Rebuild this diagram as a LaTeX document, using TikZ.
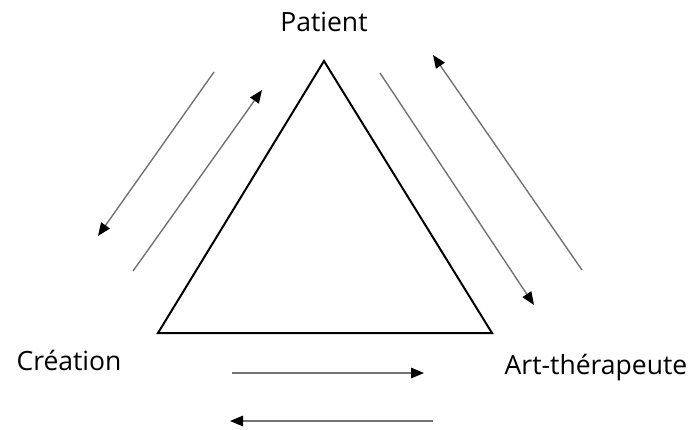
\documentclass[tikz,border=0pt]{standalone}
\usepackage{fontspec}
\setmainfont{Open Sans}
\usetikzlibrary{arrows.meta}
\tikzset{
  flow/.style={draw=black!55, line width=1.4pt, -{Triangle[length=13pt,width=10.5pt,color=black,fill=black]}},
  lbl/.style={font=\fontsize{26.5}{31}\selectfont, inner sep=0pt},
}
\begin{document}
\begin{tikzpicture}[x=1pt,y=1pt]
\useasboundingbox (0,0) rectangle (695,429);
% triangle
\coordinate (A) at (324,368);
\coordinate (B) at (158,96);
\coordinate (C) at (492,96);
\draw[line width=2pt, line join=miter] (A) -- (B) -- (C) -- cycle;
% labels
\node[lbl] (pat) at (324,407) {Patient};
\node[lbl] (cre) at (69,69) {Création};
\node[lbl] (art) at (596,61) {Art-thérapeute};
% left arrows
\coordinate (l1s) at (214,357);
\coordinate (l1e) at (98,193);
\coordinate (l2s) at (133,158);
\coordinate (l2e) at (262,339);
\draw[flow] (l1s) -- (l1e);
\draw[flow] (l2s) -- (l2e);
% right arrows
\coordinate (r1s) at (380,356);
\coordinate (r1e) at (534,124);
\coordinate (r2s) at (582,159);
\coordinate (r2e) at (433,374);
\draw[flow] (r1s) -- (r1e);
\draw[flow] (r2s) -- (r2e);
% bottom arrows
\coordinate (b1s) at (232,56);
\coordinate (b1e) at (424,56);
\coordinate (b2s) at (433,8);
\coordinate (b2e) at (230,8);
\draw[flow] (b1s) -- (b1e);
\draw[flow] (b2s) -- (b2e);
\end{tikzpicture}
\end{document}
